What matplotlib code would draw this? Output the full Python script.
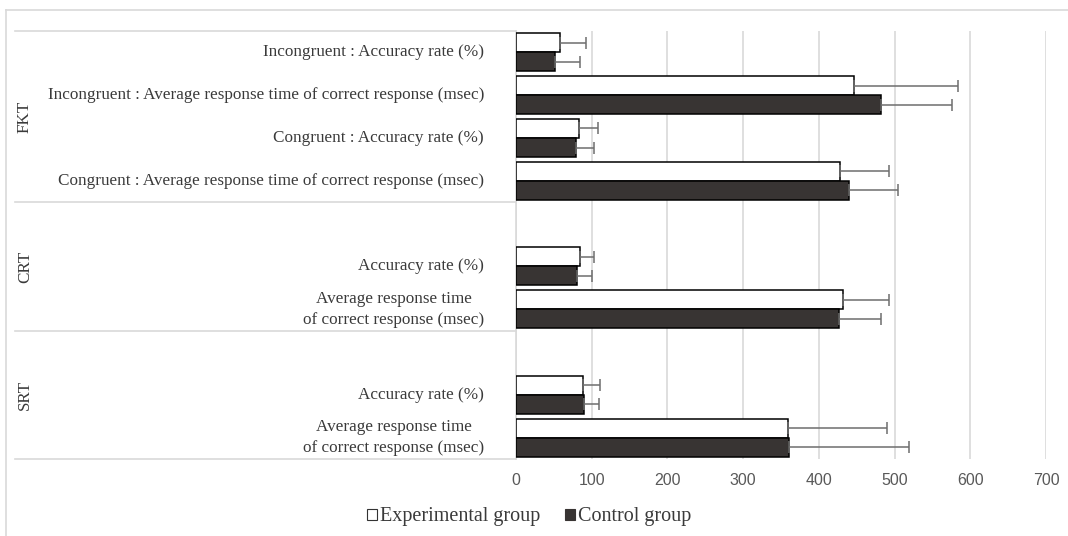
import numpy as np
import matplotlib
matplotlib.use("Agg")
import matplotlib.pyplot as plt
from matplotlib.lines import Line2D
from matplotlib.patches import Patch

# task groups and the measures inside each one (top to bottom)
groups = ["FKT", "CRT", "SRT"]
group_of = ["FKT", "FKT", "FKT", "FKT", "CRT", "CRT", "SRT", "SRT"]
measures = [
    "Incongruent : Accuracy rate (%)",
    "Incongruent : Average response time of correct response (msec)",
    "Congruent : Accuracy rate (%)",
    "Congruent : Average response time of correct response (msec)",
    "Accuracy rate (%)",
    "Average response time\nof correct response (msec)",
    "Accuracy rate (%)",
    "Average response time\nof correct response (msec)",
]

exp_mean = [58, 446, 83, 428, 84, 432, 88, 359]
exp_sd = [34, 138, 25, 64, 19, 60, 23, 131]
ctrl_mean = [52, 482, 79, 440, 80, 426, 90, 361]
ctrl_sd = [32, 94, 24, 65, 20, 56, 19, 158]

xticks = [0, 100, 200, 300, 400, 500, 600, 700]

# slot positions: groups after the first get one empty row on top
pos = []
bounds = [-0.5]
slot = 0
for gi, g in enumerate(groups):
    if gi > 0:
        slot += 1
    for k, gg in enumerate(group_of):
        if gg == g:
            pos.append(slot)
            slot += 1
    bounds.append(slot - 0.5)
pos = np.array(pos, dtype=float)
n_slots = slot

W, H = 1068, 536
fig = plt.figure(figsize=(W / 100, H / 100), dpi=100)
ax = fig.add_axes([516 / W, 1 - 459 / H, (1046 - 516) / W, 428 / H])

serif = ["Liberation Serif", "DejaVu Serif"]
grey = "#d9d9d9"
text_col = "#3a3a3a"
h = 0.445

err_kw = dict(ecolor="#6e6e6e", elinewidth=1.1, capsize=4, capthick=1.1)
ax.barh(pos - h / 2, exp_mean, height=h, color="white", edgecolor="black",
        linewidth=1.1, xerr=[np.zeros(len(exp_sd)), exp_sd],
        error_kw=err_kw, zorder=3)
ax.barh(pos + h / 2, ctrl_mean, height=h, color="#383433", edgecolor="black",
        linewidth=1.1, xerr=[np.zeros(len(ctrl_sd)), ctrl_sd],
        error_kw=err_kw, zorder=3)

ax.set_xlim(0, 700)
ax.set_ylim(n_slots - 0.5, -0.5)
ax.set_xticks(xticks)
ax.set_xticklabels([str(t) for t in xticks],
                   fontfamily=["Liberation Sans Narrow", "Liberation Sans"],
                   fontsize=11.5, color="#595959")
ax.tick_params(axis="x", length=0, pad=10)
ax.set_yticks([])
ax.grid(axis="x", color=grey, linewidth=1.2, zorder=0)
for s in ["top", "right", "bottom"]:
    ax.spines[s].set_visible(False)
ax.spines["left"].set_color(grey)
ax.spines["left"].set_linewidth(1.2)

# category labels and group separators in the label area
left_edge = -(516 - 15) / (1046 - 516)
for p, lab in zip(pos, measures):
    ax.text(-32 / 530, p, lab, transform=ax.get_yaxis_transform(),
            ha="right", va="center", ma="center", fontfamily=serif,
            fontsize=12.3, color=text_col, linespacing=1.4)
for b in bounds:
    ax.plot([left_edge, 0], [b, b], transform=ax.get_yaxis_transform(),
            color=grey, linewidth=1.2, clip_on=False)
for gi, g in enumerate(groups):
    mid = (bounds[gi] + bounds[gi + 1]) / 2
    ax.text(-(516 - 25) / 530, mid, g, transform=ax.get_yaxis_transform(),
            rotation=90, ha="center", va="center", fontfamily=serif,
            fontsize=12.3, color=text_col)

# chart border (left and top edges)
fig.add_artist(Line2D([6 / W, 6 / W], [0, 1 - 10 / H], color=grey, linewidth=1.2))
fig.add_artist(Line2D([6 / W, 1], [1 - 10 / H, 1 - 10 / H], color=grey, linewidth=1.2))

handles = [Patch(facecolor="white", edgecolor="#333333", linewidth=0.8),
           Patch(facecolor="#383433", edgecolor="#383433", linewidth=0.8)]
fig.legend(handles, ["Experimental group", "Control group"], loc="center",
           bbox_to_anchor=(529 / W, 1 - 517 / H), ncol=2, frameon=False,
           prop={"family": serif, "size": 14.5}, handlelength=0.5,
           handleheight=0.5, handletextpad=0.15, columnspacing=1.2,
           labelcolor=text_col)

fig.savefig("out.png", dpi=100, facecolor="white")
